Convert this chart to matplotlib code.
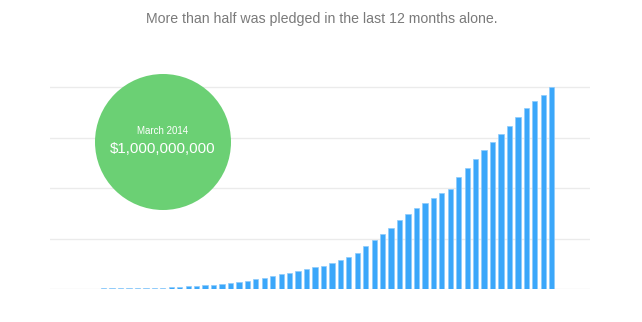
import matplotlib
matplotlib.use("Agg")
import matplotlib.pyplot as plt
from matplotlib.patches import Circle
import numpy as np

plt.rcParams['font.family'] = ['Liberation Sans', 'DejaVu Sans']

# Cumulative pledged (millions USD), monthly, Apr 2009 - Mar 2014
pledged = [0.2, 0.4, 0.6, 0.8, 1.5, 2, 2.5, 3, 3.5, 4,
           4.5, 5, 6, 6.5, 7.5, 10, 13, 16, 19, 21,
           26, 31, 36, 41, 49, 56, 64, 72, 80, 90,
           100, 108, 116, 129, 143, 159, 179, 213, 242, 270,
           303, 341, 372, 400, 428, 449, 474, 495, 554, 598,
           644, 687, 726, 765, 805, 852, 897, 930, 961, 1000]
gridlines = [0, 250, 500, 750, 1000]
title = "More than half was pledged in the last 12 months alone."
bubble_date = "March 2014"
bubble_value = "$1,000,000,000"

W, H = 642, 322
fig = plt.figure(figsize=(W / 100, H / 100), dpi=100)

# axes in pixel geometry
left, right = 50, 590
base_y = 289           # pixel from top for 0
top_val_y = 87         # pixel from top for 1000
ymax = 1010
ppv = (base_y - top_val_y) / 1000.0
ax_top = base_y - ymax * ppv
ax = fig.add_axes([left / W, (H - base_y) / H, (right - left) / W, (base_y - ax_top) / H])

x = np.arange(len(pledged))
ax.bar(x, pledged, width=0.63, color='#3ba7fa', edgecolor='#8fcbfb', linewidth=0.5, zorder=2)

# x-limits: first bar centre at px 52.9, spacing 8.455 px
sp = 8.455
ax.set_xlim((left - 52.9) / sp, (right - 52.9) / sp)
ax.set_ylim(0, ymax)
ax.set_yticks(gridlines)
ax.yaxis.grid(True, color='#ebebeb', linewidth=1.0, zorder=0)
ax.set_axisbelow(True)
ax.tick_params(length=0, labelleft=False, labelbottom=False)
ax.set_xticks([])
for s in ax.spines.values():
    s.set_visible(False)

# green bubble
cx, cy, r = 163, 142, 68
circ = Circle((cx / 100, (H - cy) / 100), r / 100, transform=fig.dpi_scale_trans,
              facecolor='#6bd074', edgecolor='none', zorder=5, clip_on=False)
ax.add_artist(circ)
fig.text(cx / W, 1 - 131 / H, bubble_date, color='white', fontsize=7,
         ha='center', va='center', zorder=6)
fig.text(cx / W, 1 - 149 / H, bubble_value, color='white', fontsize=10.8,
         ha='center', va='center', zorder=6)

fig.text(322 / W, 1 - 19 / H, title, color='#7a7a7a', fontsize=10.2,
         ha='center', va='center')

fig.savefig('out.png', dpi=100, facecolor='white')
